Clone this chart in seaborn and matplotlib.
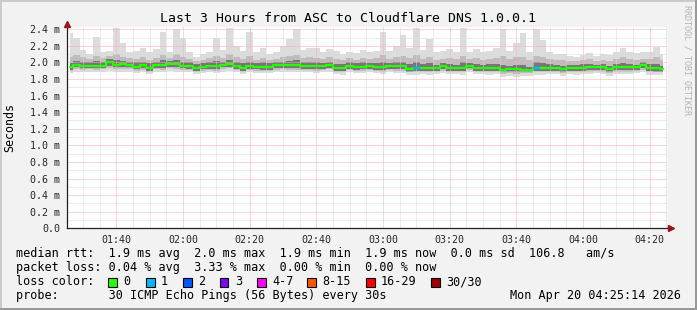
import numpy as np
import pandas as pd
import matplotlib
matplotlib.use("Agg")
import matplotlib.pyplot as plt
import matplotlib.dates as mdates
from matplotlib.patches import Rectangle
from matplotlib.ticker import MultipleLocator, FuncFormatter
import seaborn as sns

# ---------------- data ----------------
title = "Last 3 Hours from ASC to Cloudflare DNS 1.0.0.1"
window_start = "2026-04-20 01:25:14"
window_end = "2026-04-20 04:25:14"
first_sample = "2026-04-20 01:26:00"
sample_step = "2min"

rtt_median = [1.945, 1.975, 1.963, 1.962, 1.963, 1.962, 2.005, 1.975, 1.980, 1.972,
              1.950, 1.965, 1.935, 1.968, 1.970, 1.985, 1.978, 1.962, 1.958, 1.935,
              1.950, 1.957, 1.957, 1.972, 1.985, 1.958, 1.935, 1.957, 1.950, 1.950,
              1.945, 1.965, 1.968, 1.968, 1.965, 1.955, 1.960, 1.958, 1.954, 1.970,
              1.932, 1.932, 1.960, 1.948, 1.950, 1.952, 1.948, 1.948, 1.955, 1.955,
              1.952, 1.926, 1.934, 1.935, 1.935, 1.935, 1.956, 1.935, 1.935, 1.935,
              1.962, 1.935, 1.935, 1.935, 1.935, 1.912, 1.918, 1.918, 1.912, 1.912,
              1.937, 1.938, 1.938, 1.938, 1.915, 1.938, 1.938, 1.938, 1.940, 1.940,
              1.940, 1.918, 1.945, 1.942, 1.942, 1.942, 1.966, 1.932, 1.930, 1.925]

rtt_max = [2.35, 2.30, 2.15, 2.10, 2.31, 2.12, 2.14, 2.41, 2.23, 2.12,
           2.14, 2.18, 2.12, 2.16, 2.37, 2.13, 2.40, 2.30, 2.12, 2.07,
           2.10, 2.12, 2.30, 2.15, 2.42, 2.20, 2.14, 2.37, 2.12, 2.17,
           2.10, 2.12, 2.20, 2.28, 2.40, 2.15, 2.17, 2.17, 2.12, 2.16,
           2.14, 2.10, 2.13, 2.11, 2.15, 2.12, 2.14, 2.37, 2.14, 2.20,
           2.33, 2.17, 2.41, 2.15, 2.28, 2.12, 2.14, 2.16, 2.12, 2.42,
           2.13, 2.16, 2.12, 2.14, 2.18, 2.40, 2.14, 2.23, 2.35, 2.12,
           2.40, 2.27, 2.13, 2.10, 2.10, 2.08, 2.07, 2.09, 2.11, 2.08,
           2.10, 2.09, 2.12, 2.17, 2.12, 2.11, 2.12, 2.13, 2.19, 2.10]

rtt_p90 = [2.06, 2.09, 2.07, 2.04, 2.08, 2.05, 2.08, 2.10, 2.06, 2.05,
           2.04, 2.07, 2.03, 2.05, 2.09, 2.05, 2.10, 2.07, 2.04, 2.02,
           2.03, 2.05, 2.08, 2.05, 2.10, 2.06, 2.04, 2.08, 2.03, 2.05,
           2.03, 2.04, 2.07, 2.08, 2.09, 2.05, 2.06, 2.05, 2.04, 2.06,
           2.04, 2.03, 2.05, 2.03, 2.05, 2.04, 2.05, 2.09, 2.04, 2.06,
           2.08, 2.05, 2.09, 2.04, 2.07, 2.03, 2.04, 2.05, 2.04, 2.08,
           2.04, 2.05, 2.03, 2.04, 2.05, 2.08, 2.04, 2.06, 2.07, 2.03,
           2.08, 2.06, 2.04, 2.03, 2.03, 2.02, 2.02, 2.03, 2.04, 2.02,
           2.03, 2.02, 2.04, 2.06, 2.04, 2.03, 2.04, 2.04, 2.06, 2.03]

rtt_p75 = [1.99, 2.02, 2.01, 2.00, 2.02, 2.00, 2.04, 2.03, 2.02, 2.01,
           2.00, 2.01, 1.99, 2.01, 2.03, 2.02, 2.03, 2.01, 2.00, 1.98,
           1.99, 2.00, 2.02, 2.01, 2.03, 2.00, 1.99, 2.01, 1.99, 2.00,
           1.99, 2.00, 2.01, 2.02, 2.03, 2.00, 2.01, 2.00, 1.99, 2.01,
           1.98, 1.98, 2.00, 1.99, 2.00, 1.99, 1.99, 2.01, 1.99, 2.00,
           2.01, 1.98, 2.00, 1.98, 1.99, 1.97, 1.99, 1.98, 1.97, 2.00,
           1.99, 1.98, 1.97, 1.98, 1.98, 1.97, 1.96, 1.97, 1.97, 1.95,
           2.00, 1.99, 1.98, 1.97, 1.96, 1.97, 1.97, 1.98, 1.98, 1.97,
           1.98, 1.96, 1.98, 1.99, 1.98, 1.97, 2.00, 1.98, 1.98, 1.96]

rtt_p25 = [1.91, 1.94, 1.93, 1.93, 1.93, 1.93, 1.96, 1.94, 1.94, 1.94,
           1.92, 1.93, 1.90, 1.93, 1.93, 1.95, 1.94, 1.93, 1.92, 1.90,
           1.92, 1.92, 1.92, 1.94, 1.95, 1.92, 1.90, 1.92, 1.92, 1.91,
           1.91, 1.93, 1.93, 1.93, 1.93, 1.92, 1.92, 1.92, 1.92, 1.93,
           1.90, 1.90, 1.92, 1.91, 1.92, 1.92, 1.91, 1.91, 1.92, 1.92,
           1.92, 1.89, 1.90, 1.90, 1.90, 1.90, 1.92, 1.90, 1.90, 1.90,
           1.93, 1.90, 1.90, 1.90, 1.90, 1.88, 1.88, 1.88, 1.88, 1.88,
           1.90, 1.90, 1.90, 1.90, 1.88, 1.90, 1.90, 1.90, 1.91, 1.91,
           1.91, 1.88, 1.91, 1.91, 1.91, 1.91, 1.93, 1.90, 1.89, 1.89]

rtt_p10 = [1.90, 1.92, 1.91, 1.92, 1.91, 1.92, 1.93, 1.92, 1.92, 1.92,
           1.90, 1.91, 1.89, 1.92, 1.91, 1.93, 1.92, 1.91, 1.91, 1.89,
           1.90, 1.91, 1.90, 1.92, 1.93, 1.91, 1.89, 1.91, 1.90, 1.90,
           1.90, 1.91, 1.92, 1.91, 1.91, 1.91, 1.91, 1.90, 1.91, 1.92,
           1.89, 1.88, 1.91, 1.90, 1.90, 1.91, 1.90, 1.89, 1.91, 1.90,
           1.90, 1.88, 1.88, 1.89, 1.88, 1.89, 1.90, 1.89, 1.89, 1.88,
           1.91, 1.89, 1.89, 1.88, 1.89, 1.86, 1.87, 1.86, 1.87, 1.87,
           1.88, 1.88, 1.89, 1.89, 1.87, 1.89, 1.88, 1.89, 1.89, 1.90,
           1.89, 1.87, 1.89, 1.89, 1.89, 1.90, 1.91, 1.88, 1.88, 1.88]

rtt_min = [1.87, 1.89, 1.88, 1.89, 1.88, 1.89, 1.90, 1.88, 1.89, 1.89,
           1.87, 1.88, 1.86, 1.89, 1.88, 1.90, 1.89, 1.88, 1.88, 1.86,
           1.87, 1.88, 1.87, 1.89, 1.90, 1.88, 1.86, 1.88, 1.87, 1.87,
           1.87, 1.88, 1.89, 1.88, 1.88, 1.88, 1.88, 1.87, 1.88, 1.89,
           1.86, 1.85, 1.88, 1.87, 1.87, 1.88, 1.87, 1.86, 1.88, 1.87,
           1.87, 1.85, 1.85, 1.86, 1.85, 1.86, 1.87, 1.86, 1.86, 1.85,
           1.88, 1.86, 1.86, 1.85, 1.86, 1.83, 1.84, 1.83, 1.84, 1.84,
           1.85, 1.85, 1.86, 1.86, 1.84, 1.86, 1.85, 1.86, 1.86, 1.87,
           1.86, 1.84, 1.86, 1.86, 1.86, 1.87, 1.88, 1.85, 1.85, 1.85]

lost_pings = [0, 0, 0, 0, 0, 0, 0, 0, 0, 0,
              0, 0, 0, 0, 0, 0, 0, 0, 0, 0,
              0, 0, 0, 0, 0, 0, 0, 0, 0, 0,
              0, 0, 0, 0, 0, 0, 0, 0, 0, 0,
              0, 0, 0, 0, 0, 0, 0, 0, 0, 0,
              0, 0, 1, 0, 0, 0, 0, 0, 0, 0,
              0, 0, 0, 0, 0, 0, 0, 0, 0, 0,
              1, 0, 0, 0, 0, 0, 0, 0, 0, 0,
              0, 0, 0, 0, 0, 0, 0, 0, 0, 0]

loss_labels = ["0", "1", "2", "3", "4-7", "8-15", "16-29", "30/30"]
loss_colors = ["#26ff00", "#00b8ff", "#0059ff", "#7e00ff", "#ff00ff",
               "#ff5500", "#ff0000", "#a00000"]

y_label = "Seconds"
stat_rows = [
    "median rtt:  1.9 ms avg  2.0 ms max  1.9 ms min  1.9 ms now  0.0 ms sd  106.8   am/s",
    "packet loss: 0.04 % avg  3.33 % max  0.00 % min  0.00 % now",
]
loss_row_label = "loss color:"
probe_row = "probe:       30 ICMP Echo Pings (56 Bytes) every 30s"
stamp = "Mon Apr 20 04:25:14 2026"
credit = "RRDTOOL / TOBI OETIKER"

# ---------------- style ----------------
sns.set_theme(style="white")
plt.rcParams["font.family"] = ["DejaVu Sans Mono", "DejaVu Sans"]
plt.rcParams["text.color"] = "black"

W, H = 697, 310
BG = "#f2f2f2"
fig = plt.figure(figsize=(W / 100, H / 100), dpi=100, facecolor=BG)

ax_left, ax_right, ax_top, ax_bot = 67, 667, 26.7, 228.3
ax = fig.add_axes([ax_left / W, 1 - ax_bot / H, (ax_right - ax_left) / W, (ax_bot - ax_top) / H])
ax.set_facecolor("white")

times = pd.date_range(first_sample, periods=len(rtt_median), freq=sample_step)
xnum = mdates.date2num(times.to_pydatetime())
df = pd.DataFrame({"t": xnum, "median": rtt_median})

# smoke bands
ax.fill_between(xnum, rtt_min, rtt_max, step="mid", color="#dcdcdc", lw=0, zorder=1)
ax.fill_between(xnum, rtt_p10, rtt_p90, step="mid", color="#bdbdbd", lw=0, zorder=1.1)
ax.fill_between(xnum, rtt_p25, rtt_p75, step="mid", color="#777777", lw=0, zorder=1.2)

# median line
sns.lineplot(data=df, x="t", y="median", ax=ax, color=loss_colors[0], lw=1.6,
             drawstyle="steps-mid", estimator=None, zorder=3)
half = (xnum[1] - xnum[0]) / 2
for xi, yi, lp in zip(xnum, rtt_median, lost_pings):
    if lp > 0:
        ax.plot([xi - half, xi + half], [yi, yi], color=loss_colors[1], lw=1.6,
                solid_capstyle="butt", zorder=3.1)

ax.set_xlim(mdates.date2num(pd.Timestamp(window_start)), mdates.date2num(pd.Timestamp(window_end)))
ax.set_ylim(0, 2.431)
ax.set_xlabel("")
ax.set_ylabel("")

ax.xaxis.set_major_locator(mdates.MinuteLocator(byminute=[0, 20, 40]))
ax.xaxis.set_minor_locator(mdates.MinuteLocator(byminute=range(0, 60, 5)))
ax.xaxis.set_major_formatter(mdates.DateFormatter("%H:%M"))
ax.yaxis.set_major_locator(MultipleLocator(0.2))
ax.yaxis.set_minor_locator(MultipleLocator(0.1))
ax.yaxis.set_major_formatter(FuncFormatter(lambda v, p: "0.0" if abs(v) < 1e-9 else f"{v:.1f} m"))

ax.set_axisbelow(False)
ax.grid(which="major", color="#f6b0b0", linestyle=(0, (1, 1)), linewidth=0.72)
ax.grid(which="minor", color="#dadada", linestyle=(0, (1, 1)), linewidth=0.72)

for s in ["top", "right"]:
    ax.spines[s].set_visible(False)
for s in ["left", "bottom"]:
    ax.spines[s].set_color("#222222")
    ax.spines[s].set_linewidth(0.9)
    ax.spines[s].set_zorder(4)

ax.tick_params(axis="both", which="major", length=2.5, width=0.7, color="#222222",
               labelsize=7.2, direction="out")
ax.tick_params(axis="both", which="minor", length=1.5, width=0.7, color="#222222", direction="out")
ax.tick_params(axis="y", which="major", pad=2.6)
ax.tick_params(axis="x", which="major", pad=2.2)

# axis arrows
arrow_c = "#9b1515"
ax.plot([1.0, 1.0 + 5 / 600], [0, 0], transform=ax.transAxes, clip_on=False, color="#222222", lw=0.9, zorder=4)
ax.plot(1.0 + 4 / 600, 0, marker=">", ms=4, color=arrow_c, transform=ax.transAxes, clip_on=False, zorder=5)
ax.plot(0, 1.0 + 2.6 / 201.6, marker="^", ms=4, color=arrow_c, transform=ax.transAxes, clip_on=False, zorder=5)


def fx(x):
    return x / W


def fy(y):
    return 1 - y / H


# title and labels
fig.text(fx(348), fy(19), title, ha="center", va="center", fontsize=9.5)
fig.text(fx(9.5), fy(128), y_label, rotation=90, ha="center", va="center", fontsize=8.4)
fig.text(fx(687.5), fy(5), credit, rotation=270, ha="center", va="top", fontsize=6, color="#b3b3b3")

# legend rows
base_x = 15.5
fig.text(fx(base_x), fy(257.3), stat_rows[0], ha="left", va="baseline", fontsize=8.5)
fig.text(fx(base_x), fy(271.5), stat_rows[1], ha="left", va="baseline", fontsize=8.5)
fig.text(fx(base_x), fy(285.3), loss_row_label, ha="left", va="baseline", fontsize=8.5)
fig.text(fx(base_x), fy(299.3), probe_row, ha="left", va="baseline", fontsize=8.5)
fig.text(fx(680.5), fy(299.3), stamp, ha="right", va="baseline", fontsize=8.5)

box_x = [108, 146, 183, 220, 257, 307, 366, 431]
for bx, lab, col in zip(box_x, loss_labels, loss_colors):
    fig.patches.append(Rectangle((fx(bx), fy(286.5)), 8.5 / W, 8.5 / H, transform=fig.transFigure,
                                 facecolor=col, edgecolor="black", lw=0.8, figure=fig))
    fig.text(fx(bx + 15), fy(285.3), lab, ha="left", va="baseline", fontsize=8.5)

# 3D border
fig.patches.append(Rectangle((0, 0), 2 / W, 1, transform=fig.transFigure, facecolor="#cbcbcb", lw=0, figure=fig))
fig.patches.append(Rectangle((0, 1 - 2 / H), 1, 2 / H, transform=fig.transFigure, facecolor="#cbcbcb", lw=0, figure=fig))
fig.patches.append(Rectangle((1 - 2 / W, 0), 2 / W, 1, transform=fig.transFigure, facecolor="#999999", lw=0, figure=fig))
fig.patches.append(Rectangle((0, 0), 1, 2 / H, transform=fig.transFigure, facecolor="#999999", lw=0, figure=fig))

fig.savefig("out.png", dpi=100, facecolor=BG)
